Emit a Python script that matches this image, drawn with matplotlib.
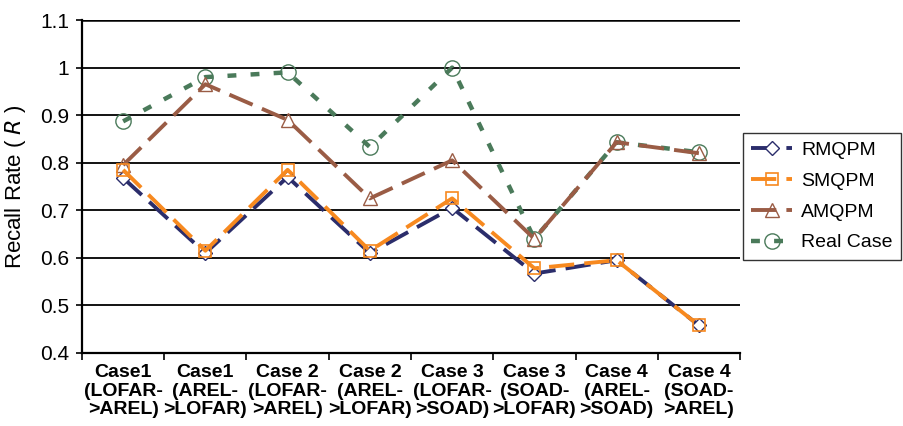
import numpy as np
import matplotlib.pyplot as plt

plt.rcParams['font.family'] = ['Liberation Sans', 'DejaVu Sans']

cases = ['Case1\n(LOFAR-\n>AREL)', 'Case1\n(AREL-\n>LOFAR)', 'Case 2\n(LOFAR-\n>AREL)',
         'Case 2\n(AREL-\n>LOFAR)', 'Case 3\n(LOFAR-\n>SOAD)', 'Case 3\n(SOAD-\n>LOFAR)',
         'Case 4\n(AREL-\n>SOAD)', 'Case 4\n(SOAD-\n>AREL)']
rmqpm = [0.768, 0.610, 0.770, 0.610, 0.705, 0.567, 0.595, 0.458]
smqpm = [0.785, 0.615, 0.785, 0.615, 0.725, 0.578, 0.595, 0.458]
amqpm = [0.795, 0.965, 0.890, 0.725, 0.805, 0.640, 0.843, 0.820]
real = [0.887, 0.980, 0.990, 0.833, 1.000, 0.640, 0.843, 0.822]

fig = plt.figure(figsize=(9.04, 4.26), dpi=100)
ax = fig.add_axes([0.0907, 0.1714, 0.7279, 0.7816])
x = np.arange(len(cases))

for yv in np.arange(0.5, 1.11, 0.1):
    ax.axhline(yv, color='black', lw=1.3 if yv < 1.05 else 1.8, zorder=1)

ax.plot(x, rmqpm, color='#2b2d6b', lw=2.8, dashes=(6.5, 2.6), marker='D', ms=7,
        mfc='white', mec='#2b2d6b', mew=1.0, label='RMQPM', zorder=3)
ax.plot(x, smqpm, color='#f7891f', lw=2.8, dashes=(6.5, 2.6), marker='s', ms=9,
        mfc='none', mec='#f7891f', mew=1.2, label='SMQPM', zorder=4)
ax.plot(x, amqpm, color='#9a5c45', lw=2.8, dashes=(6.5, 2.6), marker='^', ms=10,
        mfc='none', mec='#9a5c45', mew=1.0, label='AMQPM', zorder=3)
ax.plot(x, real, color='#4a7a5a', lw=3.2, dashes=(2, 3.2), marker='o', ms=11,
        mfc='none', mec='#4a7a5a', mew=1.0, label='Real Case', zorder=2)

ax.set_xlim(-0.5, len(cases) - 0.5)
ax.set_ylim(0.4, 1.1)
ax.set_yticks([0.4, 0.5, 0.6, 0.7, 0.8, 0.9, 1.0, 1.1])
ax.set_yticklabels(['0.4', '0.5', '0.6', '0.7', '0.8', '0.9', '1', '1.1'], fontsize=15)
ax.set_xticks(x)
ax.set_xticklabels(cases, fontsize=14, fontweight='bold', linespacing=1.12)
ax.set_xticks(np.arange(-0.5, len(cases), 1.0), minor=True)
ax.tick_params(axis='x', which='major', length=0, pad=8)
ax.tick_params(axis='x', which='minor', length=5, width=1.2, direction='out')
ax.tick_params(axis='y', length=4, width=1.2, direction='out', pad=5)
ax.set_ylabel('Recall Rate ( $\\it{R}$ )', fontsize=16, labelpad=9)

for s in ['top', 'right']:
    ax.spines[s].set_visible(False)
for s in ['left', 'bottom']:
    ax.spines[s].set_linewidth(1.6)

leg = ax.legend(loc='upper left', bbox_to_anchor=(1.004, 0.662), fontsize=14,
                frameon=True, fancybox=False, edgecolor='black', handlelength=2.1,
                labelspacing=0.68, borderpad=0.45, handletextpad=0.45,
                borderaxespad=0)
leg.get_frame().set_linewidth(1.0)

fig.savefig('out.png', dpi=100)
